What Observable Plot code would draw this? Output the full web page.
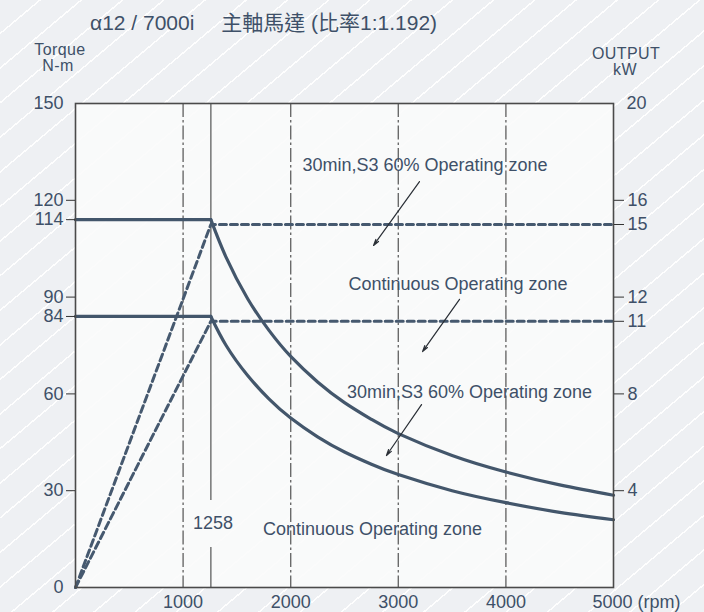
<!DOCTYPE html>
<html>
<head>
<meta charset="utf-8">
<script src="https://cdn.jsdelivr.net/npm/d3@7"></script>
<script src="https://cdn.jsdelivr.net/npm/@observablehq/plot@0.6"></script>
<style>
  html, body { margin: 0; padding: 0; }
  #wrap {
    position: relative; width: 704px; height: 612px; overflow: hidden;
    background-color: #eef0f3;
    background-image: repeating-linear-gradient(140deg, rgba(255,255,255,0) 0px, rgba(255,255,255,0) 25px, rgba(255,255,255,0.95) 25px, rgba(255,255,255,0.95) 26.5px);
    font-family: "Liberation Sans", Arial, "Noto Sans CJK TC", sans-serif;
    color: #3e5068;
  }
  #wrap svg { position: absolute; left: 0; top: 0; }
  .lbl { position: absolute; white-space: nowrap; line-height: 1; }
  .ax { font-size: 16px; letter-spacing: 0.4px; text-align: center; }
</style>
</head>
<body>
<div id="wrap">
  <div class="lbl" style="left:90px; top:12px; font-size:21px;">α12 / 7000i　 主軸馬達 (比率1:1.192)</div>
  <div class="lbl ax" style="left:30px; top:42px; width:60px;">Torque</div>
  <div class="lbl ax" style="left:30px; top:58px; width:56px;">N-m</div>
  <div class="lbl ax" style="left:586px; top:46px; width:80px;">OUTPUT</div>
  <div class="lbl ax" style="left:586px; top:62px; width:78px;">kW</div>
</div>
<script>
// ---- data ----
const xTicks = [1000, 2000, 3000, 4000];
const xLastTick = [5000];
const torqueTicks = [30, 60, 84, 90, 114, 120];
const torqueEnds = [0, 150];
const kwTicks = [4, 8, 11, 12, 15, 16];
const kwEnds = [20];
const kwToTorque = 150 / 20;

const kneeRpm = 1258;
const flatRpm = [0, 1258];
const s3Flat = [114, 114];
const contFlat = [84, 84];

const curveRpm = [1258, 1400, 1600, 1800, 2000, 2250, 2500, 2750, 3000, 3500, 4000, 4500, 5000];
const s3Curve  = [114, 102.3, 89.5, 79.6, 71.6, 63.7, 57.3, 52.1, 47.7, 40.9, 35.8, 31.8, 28.6];
const contCurve = [84, 75.0, 65.7, 58.4, 52.5, 46.7, 42.0, 38.2, 35.0, 30.0, 26.3, 23.3, 21.0];

const powerRpm = [0, 1258, 5000];
const s3PowerKw = [0, 15, 15];
const contPowerKw = [0, 11, 11];

const notes = [
  {x: 3248, y: 130.8, text: "30min,S3 60% Operating zone"},
  {x: 3555, y: 93.9, text: "Continuous Operating zone"},
  {x: 3662, y: 60.4, text: "30min,S3 60% Operating zone"},
  {x: 2760, y: 18.0, text: "Continuous Operating zone"},
  {x: 1278, y: 19.8, text: "1258"}
];
const arrows = [
  {x1: 3197, y1: 125.8, x2: 2770, y2: 106.0},
  {x1: 3569, y1: 89.3, x2: 3225, y2: 73.1},
  {x1: 3216, y1: 56.7, x2: 2890, y2: 40.9}
];
const kneeRuleSegments = [{y1: 150, y2: 27.0}, {y1: 12.4, y2: 0}];

// ---- build tables ----
const zip = (xs, ys, k = 1) => xs.map((x, i) => ({x, y: ys[i] * k}));

const textColor = "#3e5068";
const lineColor = "#43566b";

const chart = Plot.plot({
  width: 704,
  height: 612,
  marginLeft: 75,
  marginRight: 91,
  marginTop: 103,
  marginBottom: 25,
  x: {domain: [0, 5000], axis: null},
  y: {domain: [0, 150], axis: null},
  style: {background: "transparent", fontFamily: '"Liberation Sans", Arial, sans-serif', color: textColor, overflow: "visible"},
  marks: [
    Plot.frame({fill: "#fafafb", fillOpacity: 0.88, stroke: null}),
    Plot.ruleX(xTicks, {stroke: "#6a6a6a", strokeWidth: 1.4, strokeDasharray: "14,3,2.5,3"}),
    Plot.ruleX(kneeRuleSegments, {x: () => kneeRpm, y1: "y1", y2: "y2", stroke: "#6a6a6a", strokeWidth: 1.4}),
    Plot.line(zip(powerRpm, s3PowerKw, kwToTorque), {x: "x", y: "y", stroke: "#46596f", strokeWidth: 3, strokeDasharray: "7,4"}),
    Plot.line(zip(powerRpm, contPowerKw, kwToTorque), {x: "x", y: "y", stroke: "#46596f", strokeWidth: 3, strokeDasharray: "7,4"}),
    Plot.line(zip(flatRpm, s3Flat), {x: "x", y: "y", stroke: lineColor, strokeWidth: 3.2}),
    Plot.line(zip(flatRpm, contFlat), {x: "x", y: "y", stroke: lineColor, strokeWidth: 3.2}),
    Plot.line(zip(curveRpm, s3Curve), {x: "x", y: "y", stroke: lineColor, strokeWidth: 3.2, curve: "natural"}),
    Plot.line(zip(curveRpm, contCurve), {x: "x", y: "y", stroke: lineColor, strokeWidth: 3.2, curve: "natural"}),
    Plot.arrow(arrows, {x1: "x1", y1: "y1", x2: "x2", y2: "y2", stroke: "#2a2f36", strokeWidth: 1.2, headLength: 8, headAngle: 30}),
    Plot.text(notes, {x: "x", y: "y", text: "text", fontSize: 18, fill: textColor}),
    Plot.frame({stroke: "#4a4a4a", strokeWidth: 1.6}),
    // left axis
    Plot.axisY(torqueTicks, {anchor: "left", tickSize: 9, tickPadding: 3, fontSize: 18, stroke: "#333", fill: textColor, label: null}),
    Plot.axisY(torqueEnds, {anchor: "left", tickSize: 0, tickPadding: 12, fontSize: 18, fill: textColor, label: null}),
    // right axis (kW)
    Plot.axisY(kwTicks.map(d => d * kwToTorque), {anchor: "right", tickSize: 10, tickPadding: 4, fontSize: 18, stroke: "#333", fill: textColor, label: null, tickFormat: d => String(Math.round(d / kwToTorque))}),
    Plot.axisY(kwEnds.map(d => d * kwToTorque), {anchor: "right", tickSize: 0, tickPadding: 13, fontSize: 18, fill: textColor, label: null, tickFormat: d => String(Math.round(d / kwToTorque))}),
    // bottom axis
    Plot.axisX(xTicks, {anchor: "bottom", tickSize: 0, tickPadding: 8, fontSize: 18, fill: textColor, label: null, tickFormat: d => String(d)}),
    Plot.axisX(xLastTick, {anchor: "bottom", tickSize: 0, tickPadding: 8, fontSize: 18, fill: textColor, label: null, tickFormat: d => d + " (rpm)", textAnchor: "start", dx: -21})
  ]
});
document.getElementById("wrap").prepend(chart);
</script>
</body>
</html>
